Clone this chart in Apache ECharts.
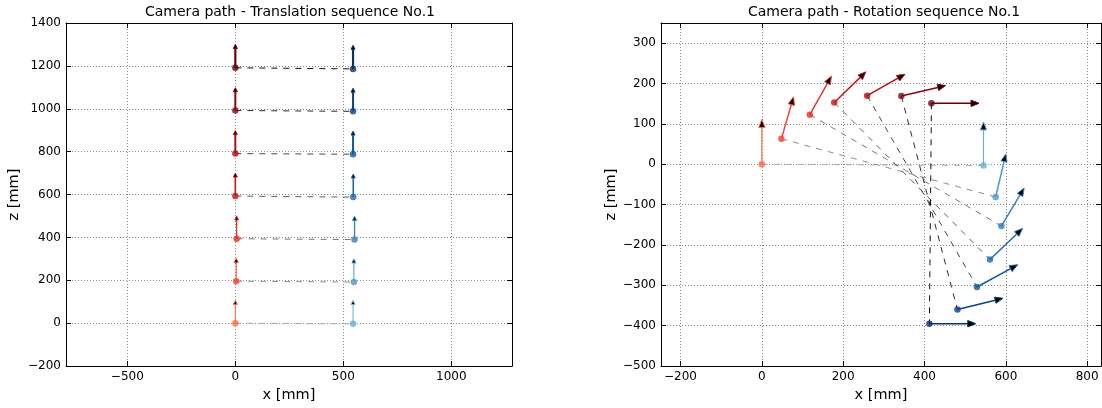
<!DOCTYPE html>
<html><head><meta charset="utf-8">
<script src="https://cdn.jsdelivr.net/npm/echarts@6/dist/echarts.min.js"></script>
<style>html,body{margin:0;padding:0;background:#fff}#c{width:1102px;height:408px}</style>
</head><body><div id="c"></div>
<script>
// ---- Translation sequence No.1 ----
const transRedX = [0, 4, 6, 0, 0, 0, 0];
const transRedZ = [0, 196, 394, 593, 791, 992, 1191];
const transRedTipZ = [106, 302, 500, 700, 898, 1098, 1300];
const transBlueX = [545, 549, 552, 546, 545, 545, 545];
const transBlueZ = [-3, 192, 390, 588, 788, 988, 1186];
const transBlueTipZ = [106, 300, 498, 696, 896, 1096, 1296];
// ---- Rotation sequence No.1 ----
const rotRedX = [0, 48, 118, 178, 259, 343, 417];
const rotRedZ = [0, 63, 123, 153, 170, 169, 151];
const rotRedTipX = [0, 78, 171, 256, 352, 452, 534];
const rotRedTipZ = [111, 167, 218, 229, 223, 195, 151];
const rotBlueX = [545, 575, 589, 561, 529, 481, 412];
const rotBlueZ = [-3, -81, -153, -236, -304, -360, -395];
const rotBlueTipX = [545, 600, 645, 641, 629, 593, 526];
const rotBlueTipZ = [105, 26, -59, -159, -249, -332, -395];
// ---- texts ----
const titles = ['Camera path - Translation sequence No.1', 'Camera path - Rotation sequence No.1'];
const xName = 'x [mm]';
const zName = 'z [mm]';

// styles
const reds = ['#fb6a4a','#f14432','#e32f27','#c8171c','#ad1016','#860811','#67000d'];
const blues = ['#6baed6','#4d99ca','#3282be','#1d6cb1','#0d58a1','#084488','#08306b'];
const grays = ['#a8a8a8','#8e8e8e','#777777','#5f5f5f','#474747','#2e2e2e','#111111'];
const FONT = 'DejaVu Sans';

function fmt(v){ return String(v).replace('-', '\u2212'); }

function arrowRenderer(colors, widths, headLen, headW){
  return function(params, api){
    const i = api.value(4);
    const p0 = api.coord([api.value(0), api.value(1)]);
    const p1 = api.coord([api.value(2), api.value(3)]);
    const dx = p1[0]-p0[0], dy = p1[1]-p0[1];
    const len = Math.hypot(dx, dy) || 1;
    const ux = dx/len, uy = dy/len, px = -uy, py = ux;
    const bx = p1[0]-ux*headLen, by = p1[1]-uy*headLen;
    const c = colors[i];
    return {type:'group', children:[
      {type:'line', shape:{x1:p0[0], y1:p0[1], x2:bx, y2:by}, style:{stroke:c, lineWidth:widths[i]}},
      {type:'polygon', shape:{points:[[p1[0],p1[1]],[bx+px*headW, by+py*headW],[bx-px*headW, by-py*headW]]},
        style:{fill:'#000', stroke:c, lineWidth:1}}
    ]};
  };
}
function connRenderer(params, api){
  const i = api.value(4);
  const p0 = api.coord([api.value(0), api.value(1)]);
  const p1 = api.coord([api.value(2), api.value(3)]);
  return {type:'line', shape:{x1:p0[0], y1:p0[1], x2:p1[0], y2:p1[1]},
    style:{stroke:grays[i], lineWidth:1, lineDash:[6,6]}};
}

const gridLine = {show:true, lineStyle:{color:'#8a8a8a', type:[1,2], width:1}};
function mainX(gi, min, max, name){
  return {type:'value', gridIndex:gi, position:'bottom', min, max, scale:false,
    axisLine:{show:true, onZero:false, lineStyle:{color:'#000', width:1}},
    axisTick:{show:true, inside:true, length:5, lineStyle:{color:'#000'}},
    axisLabel:{show:true, margin:5, color:'#000', fontFamily:FONT, fontSize:12, formatter:fmt, showMinLabel:false, showMaxLabel:false},
    splitLine:gridLine,
    name, nameLocation:'middle', nameGap:19, nameTextStyle:{color:'#000', fontFamily:FONT, fontSize:14.5}};
}
function secX(gi, min, max){
  return {type:'value', gridIndex:gi, position:'top', min, max,
    axisLine:{show:true, onZero:false, lineStyle:{color:'#000', width:1}},
    axisTick:{show:true, inside:true, length:5, lineStyle:{color:'#000'}},
    axisLabel:{show:false}, splitLine:{show:false}};
}
function mainY(gi, min, max, interval, name, gap, showMax){
  return {type:'value', gridIndex:gi, position:'left', min, max, interval,
    axisLine:{show:true, onZero:false, lineStyle:{color:'#000', width:1}},
    axisTick:{show:true, inside:true, length:5, lineStyle:{color:'#000'}},
    axisLabel:{show:true, margin:5, color:'#000', fontFamily:FONT, fontSize:12, formatter:fmt, showMinLabel:true, showMaxLabel:showMax},
    splitLine:gridLine,
    name, nameLocation:'middle', nameGap:gap, nameTextStyle:{color:'#000', fontFamily:FONT, fontSize:14.5}};
}
function secY(gi, min, max, interval){
  return {type:'value', gridIndex:gi, position:'right', min, max, interval,
    axisLine:{show:true, onZero:false, lineStyle:{color:'#000', width:1}},
    axisTick:{show:true, inside:true, length:5, lineStyle:{color:'#000'}},
    axisLabel:{show:false}, splitLine:{show:false}};
}

function buildSeries(xi, yi, rX, rZ, rTX, rTZ, bX, bZ, bTX, bTZ, widths, headLen, headW){
  const conn = rX.map((x,i)=>[x, rZ[i], bX[i], bZ[i], i]);
  const redA = rX.map((x,i)=>[x, rZ[i], rTX[i], rTZ[i], i]);
  const blueA = bX.map((x,i)=>[x, bZ[i], bTX[i], bTZ[i], i]);
  const dots = rX.map((x,i)=>({value:[x, rZ[i]], itemStyle:{color:reds[i]}}))
    .concat(bX.map((x,i)=>({value:[x, bZ[i]], itemStyle:{color:blues[i]}})));
  return [
    {type:'custom', xAxisIndex:xi, yAxisIndex:yi, z:2, silent:true, renderItem:connRenderer, data:conn, encode:{x:[0,2], y:[1,3]}},
    {type:'custom', xAxisIndex:xi, yAxisIndex:yi, z:3, silent:true, renderItem:arrowRenderer(reds, widths, headLen, headW), data:redA, encode:{x:[0,2], y:[1,3]}},
    {type:'custom', xAxisIndex:xi, yAxisIndex:yi, z:3, silent:true, renderItem:arrowRenderer(blues, widths, headLen, headW), data:blueA, encode:{x:[0,2], y:[1,3]}},
    {type:'scatter', xAxisIndex:xi, yAxisIndex:yi, z:4, silent:true, symbol:'circle', symbolSize:6.5, data:dots}
  ];
}

const chart = echarts.init(document.getElementById('c'), null, {renderer:'canvas'});
const option = {
  animation:false,
  backgroundColor:'#fff',
  textStyle:{fontFamily:FONT},
  graphic:[
    {type:'text', x:290, y:5, style:{text:titles[0], font:'14px "DejaVu Sans"', fill:'#000', align:'center', verticalAlign:'top'}},
    {type:'text', x:884, y:5, style:{text:titles[1], font:'14px "DejaVu Sans"', fill:'#000', align:'center', verticalAlign:'top'}}
  ],
  grid:[
    {left:66, width:446, top:23, height:345},
    {left:661, width:440, top:23, height:345.5}
  ],
  xAxis:[
    mainX(0, -784, 1281, xName), secX(0, -784, 1281),
    mainX(1, -248, 834, xName), secX(1, -248, 834)
  ],
  yAxis:[
    mainY(0, -200, 1400, 200, zName, 44, true), secY(0, -200, 1400, 200),
    mainY(1, -500, 350, 100, zName, 33, false), secY(1, -500, 350, 100)
  ],
  series:[].concat(
    buildSeries(0, 0, transRedX, transRedZ, transRedX, transRedTipZ, transBlueX, transBlueZ, transBlueX, transBlueTipZ,
      [1, 1, 1.3, 1.6, 2, 2, 2.2], 4, 2),
    buildSeries(2, 2, rotRedX, rotRedZ, rotRedTipX, rotRedTipZ, rotBlueX, rotBlueZ, rotBlueTipX, rotBlueTipZ,
      [1.2, 1.5, 1.5, 1.5, 1.5, 1.5, 1.5], 8, 3.2)
  )
};
chart.setOption(option);
</script></body></html>
